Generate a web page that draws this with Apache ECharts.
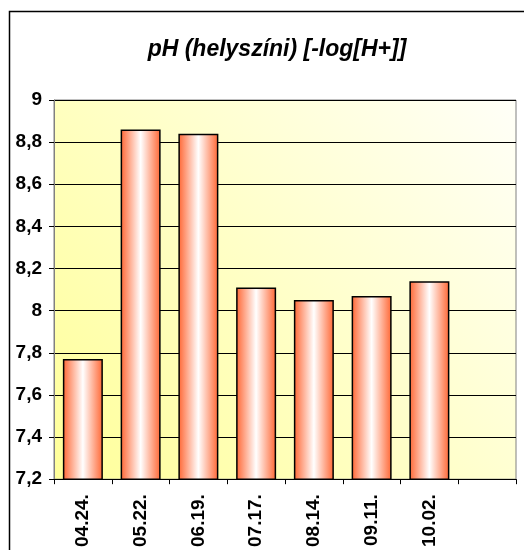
<!DOCTYPE html>
<html>
<head>
<meta charset="utf-8">
<style>
  html, body { margin: 0; padding: 0; background: #ffffff; }
  #chart { width: 524px; height: 550px; }
</style>
<script src="https://cdn.jsdelivr.net/npm/echarts@6/dist/echarts.min.js"></script>
</head>
<body>
<div id="chart"></div>
<script>
// Sampling dates (month.day.) and field pH readings
const dates = ['04.24.', '05.22.', '06.19.', '07.17.', '08.14.', '09.11.', '10.02.', ''];
const phValues = [7.77, 8.86, 8.84, 8.11, 8.05, 8.07, 8.14, null];
const titleText = 'pH (helyszíni) [-log[H+]]';
const yMin = 7.2, yMax = 9, yStep = 0.2;

const chart = echarts.init(document.getElementById('chart'), null, { renderer: 'canvas' });
const font = '"Liberation Sans", Arial, sans-serif';

const barFill = new echarts.graphic.LinearGradient(0, 0, 1, 0, [
  { offset: 0, color: '#FF6633' },
  { offset: 0.5, color: '#FFFFFF' },
  { offset: 1, color: '#FF6633' }
]);
const plotFill = new echarts.graphic.LinearGradient(0, 1, 1, 0, [
  { offset: 0, color: '#FFFF99' },
  { offset: 1, color: '#FFFFF8' }
]);

chart.setOption({
  backgroundColor: '#ffffff',
  animation: false,
  graphic: [{
    type: 'rect',
    shape: { x: 9.5, y: 11.5, width: 600, height: 600 },
    style: { fill: 'none', stroke: '#000000', lineWidth: 1.5 },
    silent: true,
    z: -1
  }],
  title: {
    text: titleText,
    left: 272,
    textAlign: 'center',
    top: 33,
    textStyle: { fontFamily: font, fontSize: 23, fontWeight: 'bold', fontStyle: 'italic', color: '#000' }
  },
  grid: {
    left: 54, right: 8, top: 100, bottom: 69,
    show: true,
    backgroundColor: plotFill,
    borderColor: '#808080',
    borderWidth: 1
  },
  xAxis: {
    type: 'category',
    data: dates,
    axisLine: { lineStyle: { color: '#000', width: 1 } },
    axisTick: { show: true, length: 5, lineStyle: { color: '#000' } },
    axisLabel: {
      rotate: 90, margin: 15,
      fontFamily: font, fontSize: 19, fontWeight: 'bold', color: '#000',
      interval: 0
    },
    splitLine: { show: false }
  },
  yAxis: {
    type: 'value',
    min: yMin, max: yMax, interval: yStep,
    axisLine: { show: true, lineStyle: { color: '#808080', width: 1 } },
    axisTick: { show: true, length: 5, lineStyle: { color: '#000' } },
    axisLabel: {
      margin: 12,
      fontFamily: font, fontSize: 19, fontWeight: 'bold', color: '#000',
      formatter: v => String(+v.toFixed(1)).replace('.', ',')
    },
    splitLine: { show: true, lineStyle: { color: '#000', width: 1 } }
  },
  series: [{
    type: 'bar',
    data: phValues,
    barWidth: 40,
    itemStyle: { color: barFill, borderColor: '#000', borderWidth: 1.5 }
  }]
});
</script>
</body>
</html>
